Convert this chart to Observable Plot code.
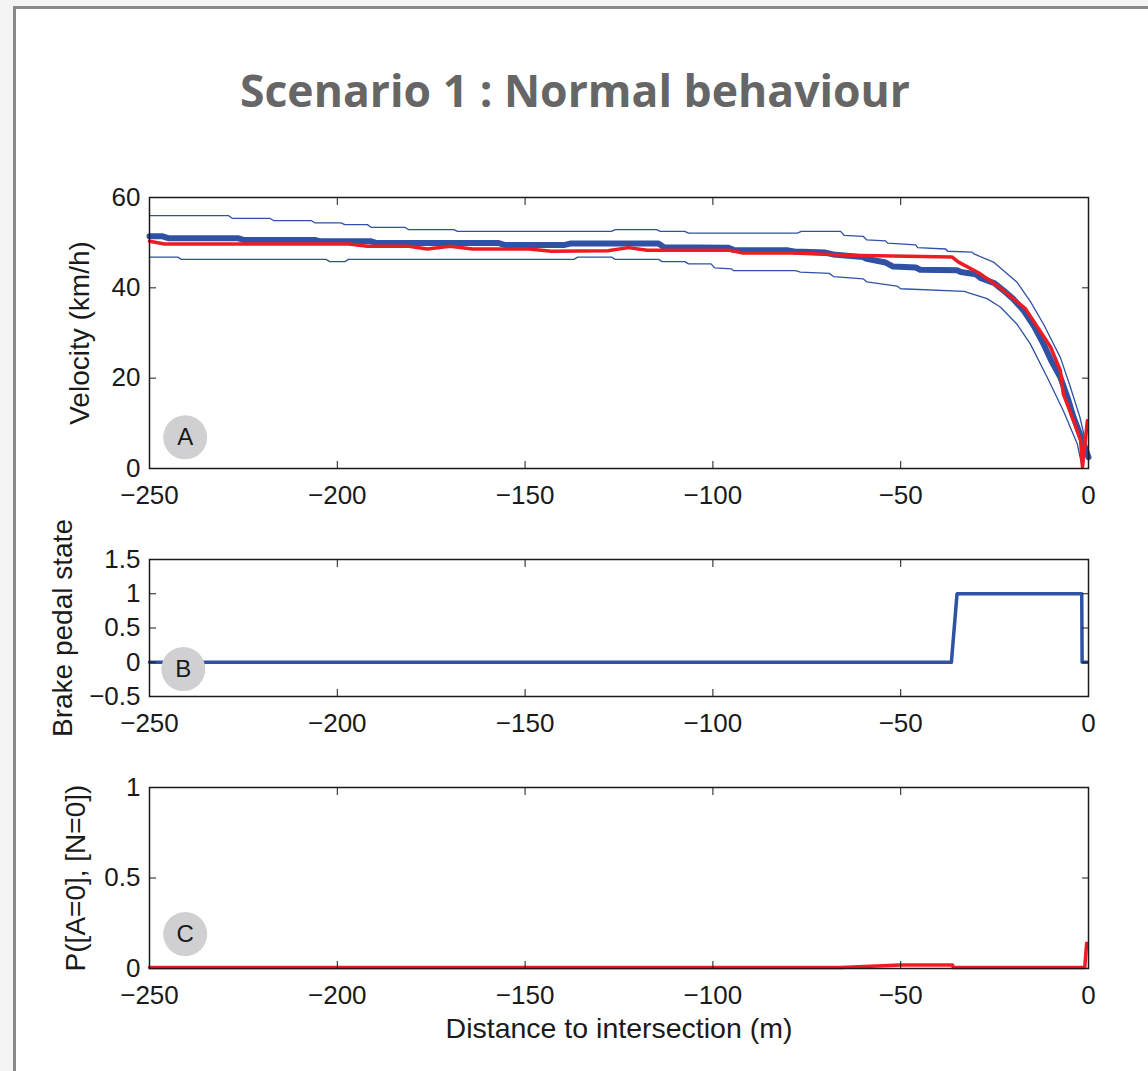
<!DOCTYPE html>
<html>
<head>
<meta charset="utf-8">
<script src="https://cdn.jsdelivr.net/npm/d3@7"></script>
<script src="https://cdn.jsdelivr.net/npm/@observablehq/plot@0.6"></script>
<style>
  html, body { margin: 0; padding: 0; background: #f4f4f4; width: 1148px; height: 1071px; overflow: hidden; }
  #frame { position: absolute; left: 13px; top: 6px; width: 1200px; height: 1200px; background: #fff;
           border-left: 3px solid #8a8a8a; border-top: 3px solid #8a8a8a; }
  #title { position: absolute; left: 0; width: 1150px; top: 59px; text-align: center;
           font-family: "Open Sans", Lato, sans-serif; font-weight: 700; font-size: 44.5px; color: #666; }
  .panel { position: absolute; left: 0; }
  .panel svg { font-family: "Liberation Sans", Arial, sans-serif; overflow: visible; }
</style>
</head>
<body>
<div id="frame"></div>
<div id="title">Scenario 1 : Normal behaviour</div>
<div id="pA" class="panel" style="top:170px"></div>
<div id="pB" class="panel" style="top:535px"></div>
<div id="pC" class="panel" style="top:760px"></div>
<script>
// ---- data ----
const xTicks = [-250, -200, -150, -100, -50, 0];
const speedTicks = [0, 20, 40, 60];
const brakeTicks = [-0.5, 0, 0.5, 1, 1.5];
const probTicks = [0, 0.5, 1];

// mean velocity of normal behaviour model (thick blue)
const meanSpeed = [[-250,51.4],[-246.5,51.4],[-245,51.0],[-226.5,51.0],[-225,50.6],[-206,50.6],[-204.5,50.3],
  [-191,50.3],[-189.5,49.9],[-157,49.9],[-155.5,49.5],[-139.5,49.5],[-138,49.8],[-114.5,49.8],[-113,49.0],
  [-96,48.9],[-94.5,48.4],[-80,48.3],[-78,48.0],[-76,48.0],[-70,47.8],[-68,47.4],[-60,46.8],[-59,46.4],
  [-54,45.6],[-52,44.7],[-46,44.5],[-44.8,44.0],[-35,43.9],[-34,43.5],[-30,43.0],[-28.8,42.2],[-25,41.0],
  [-22.6,39.4],[-20,37.5],[-17.3,35.0],[-14.5,31.5],[-12,27.6],[-10,24.0],[-7.5,20.2],[-5.5,15.5],
  [-4,11.4],[-2,7.0],[0,2.5]];
// upper bound (thin blue)
const upperSpeed = [[-250,56.0],[-229,56.0],[-228,55.4],[-218,55.4],[-217,54.9],[-207,54.9],[-206,54.4],
  [-199,54.4],[-198,54.0],[-192,54.0],[-191,53.4],[-182,53.4],[-181,52.9],[-169,52.9],[-168,52.5],
  [-127,52.5],[-126,52.9],[-115,52.9],[-114,52.5],[-107.5,52.5],[-106.5,52.1],[-77.5,52.1],[-76.5,52.5],
  [-66,52.5],[-65,51.6],[-60,51.4],[-59,50.6],[-54,50.4],[-53.5,49.9],[-46,49.5],[-45.5,48.9],
  [-38,48.6],[-37.5,48.1],[-31,47.9],[-30.5,47.5],[-25.3,45.7],[-19.1,41.3],[-15.5,37.0],[-12,32.0],
  [-7.5,24.6],[-5,18.5],[-2.3,11.4],[0,3.2]];
// lower bound (thin blue)
const lowerSpeed = [[-250,46.8],[-242.5,46.8],[-241.5,46.3],[-203,46.3],[-202,45.8],[-198,45.8],[-197,46.3],
  [-137,46.3],[-136,46.8],[-127,46.8],[-126,46.3],[-114.5,46.3],[-113.5,45.8],[-107.5,45.8],[-106.5,45.3],
  [-100.5,45.3],[-99.5,44.4],[-95,44.2],[-94.5,43.8],[-78,43.8],[-76.7,43.5],[-69,43.2],[-67.9,42.5],
  [-60,42.0],[-59,41.3],[-51,40.4],[-50,39.8],[-33,39.2],[-32.3,39.0],[-27,37.6],[-23.4,35.7],
  [-19.1,32.0],[-15.5,27.6],[-11,20.2],[-6.7,12.8],[-3,5.5],[-1.6,0]];
// observed driver velocity (red)
const observedSpeed = [[-250,50.3],[-246,49.7],[-197,49.7],[-192,49.2],[-181,49.2],[-176,48.6],[-170,49.2],
  [-164,48.6],[-149,48.6],[-143,48.1],[-128,48.2],[-122.5,48.9],[-117.5,48.3],[-95.5,48.3],[-92,47.7],
  [-78.5,47.7],[-64,47.2],[-36.3,46.8],[-34.6,45.7],[-28.8,43.1],[-23.4,39.9],[-16.8,35.4],[-10.1,26.9],
  [-7.5,21.7],[-6.7,16.5],[-4,10.6],[-2.1,6.2],[-1.6,0.3],[-0.3,10.6]];
// brake pedal state (blue)
const brakeState = [[-250,0],[-36.5,0],[-35,1],[-1.8,1],[-1.7,0],[-0.3,0]];
// probability P([A=0],[N=0]) (red)
const probability = [[-250,0.005],[-66,0.005],[-50,0.02],[-36.2,0.02],[-36,0.005],[-1,0.005],[-0.5,0.14]];
// panel badges
const badges = [{panel:"A", x:-240.5, y:6.9}, {panel:"B", x:-241, y:-0.1}, {panel:"C", x:-240.5, y:0.19}];
// axis titles
const yTitles = {A: "Velocity (km/h)", B: "Brake pedal state", C: "P([A=0], [N=0])"};
const xTitle = "Distance to intersection (m)";

// ---- styling ----
const BLUE = "#2f52a5", RED = "#ed1c24", BADGE = "#d0d0d2", INK = "#1a1a1a";
const fmt = d => (d < 0 ? "\u2212" + Math.abs(d) : String(d));
const TICKFS = 26;

function boxAxes(yTicks, yTitle, titleDx, xLabel) {
  const marks = [
    // inward tick marks on all four sides
    Plot.axisX({anchor: "bottom", ticks: xTicks, tickSize: 7, dy: -7, tickFormat: () => "", label: null, stroke: INK}),
    Plot.axisX({anchor: "top", ticks: xTicks, tickSize: 7, dy: 7, tickFormat: () => "", label: null, stroke: INK}),
    Plot.axisY({anchor: "left", ticks: yTicks, tickSize: 7, dx: 7, tickFormat: () => "", label: null, stroke: INK}),
    Plot.axisY({anchor: "right", ticks: yTicks, tickSize: 7, dx: -7, tickFormat: () => "", label: null, stroke: INK}),
    // tick labels
    Plot.axisX({anchor: "bottom", ticks: xTicks, tickSize: 0, tickPadding: 17, tickFormat: fmt, fontSize: TICKFS,
      fill: INK, label: null}),
    Plot.axisY({anchor: "left", ticks: yTicks, tickSize: 0, tickPadding: 9, tickFormat: fmt, fontSize: TICKFS,
      fill: INK, label: null}),
    // y title
    Plot.text([yTitle], {frameAnchor: "left", text: d => d, rotate: -90, dx: titleDx, fontSize: 28,
      fill: INK, textAnchor: "middle", lineAnchor: "middle"}),
    Plot.frame({stroke: INK, strokeWidth: 1.5})
  ];
  if (xLabel) marks.push(Plot.text([xLabel], {frameAnchor: "bottom", text: d => d, dy: 60, fontSize: 28.5,
      fill: INK, textAnchor: "middle", lineAnchor: "middle"}));
  return marks;
}

function badge(letter) {
  const b = badges.filter(d => d.panel === letter);
  return [
    Plot.dot(b, {x: "x", y: "y", r: 22, fill: BADGE}),
    Plot.text(b, {x: "x", y: "y", text: "panel", fontSize: 24, fill: INK})
  ];
}

const common = {width: 1148, marginLeft: 149, marginRight: 60,
  x: {domain: [-250, 0]}, style: {fontSize: "24px", fontFamily: "Liberation Sans, Arial, sans-serif", overflow: "visible"}};

// Panel A
const A = Plot.plot({
  ...common, height: 343, marginTop: 27, marginBottom: 45,
  y: {domain: [0, 60]},
  marks: [
    ...badge("A"),
    Plot.line(upperSpeed, {x: d => d[0], y: d => d[1], stroke: BLUE, strokeWidth: 1.3}),
    Plot.line(lowerSpeed, {x: d => d[0], y: d => d[1], stroke: BLUE, strokeWidth: 1.3}),
    Plot.line(meanSpeed, {x: d => d[0], y: d => d[1], stroke: BLUE, strokeWidth: 6}),
    Plot.line(observedSpeed, {x: d => d[0], y: d => d[1], stroke: RED, strokeWidth: 3.5}),
    ...boxAxes(speedTicks, yTitles.A, -69, null)
  ]
});
document.getElementById("pA").append(A);

// Panel B
const B = Plot.plot({
  ...common, height: 206, marginTop: 24, marginBottom: 45,
  y: {domain: [-0.5, 1.5]},
  marks: [
    Plot.line(brakeState, {x: d => d[0], y: d => d[1], stroke: BLUE, strokeWidth: 3.5}),
    ...badge("B"),
    ...boxAxes(brakeTicks, yTitles.B, -86, null)
  ]
});
document.getElementById("pB").append(B);

// Panel C
const C = Plot.plot({
  ...common, height: 288, marginTop: 27, marginBottom: 80,
  y: {domain: [0, 1]},
  marks: [
    ...badge("C"),
    Plot.line(probability, {x: d => d[0], y: d => d[1], stroke: RED, strokeWidth: 3.5}),
    ...boxAxes(probTicks, yTitles.C, -73, xTitle)
  ]
});
document.getElementById("pC").append(C);
</script>
</body>
</html>
